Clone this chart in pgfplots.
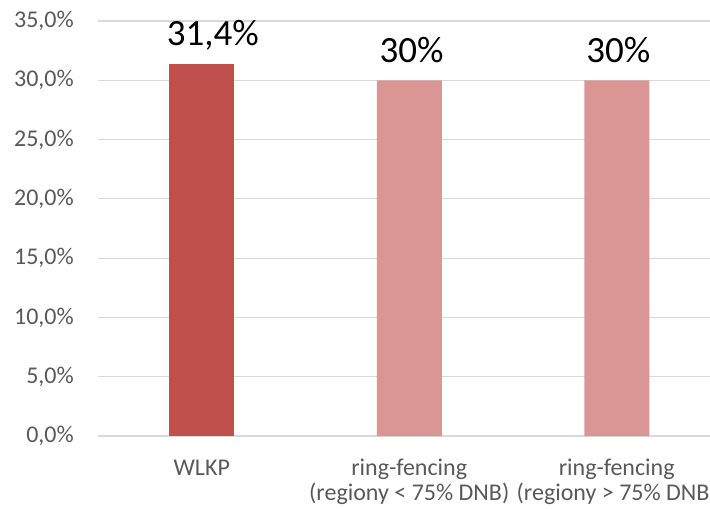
\documentclass[border=0pt]{standalone}
\usepackage{pgfplots}
\pgfplotsset{compat=1.18}
\usepackage{fontspec}
\setmainfont{Carlito}
\definecolor{barA}{HTML}{C0504D}
\definecolor{barB}{HTML}{D99694}
\definecolor{txtgray}{HTML}{595959}
\definecolor{gridgray}{HTML}{D9D9D9}
\begin{document}
\begin{tikzpicture}[x=1pt,y=1pt]
\useasboundingbox (0,0) rectangle (710,509);
\clip (0,0) rectangle (710,509);
\begin{axis}[
  at={(98pt,73pt)}, anchor=south west,
  scale only axis, width=622.5pt, height=415pt,
  xmin=-0.5, xmax=2.5, ymin=0, ymax=35,
  clip=false,
  axis line style={draw=none},
  tick style={draw=none}, major tick length=0pt,
  ymajorgrids, grid style={gridgray, line width=1.2pt},
  ytick={0,5,10,15,20,25,30,35},
  yticklabels={{0,0\%},{5,0\%},{10,0\%},{15,0\%},{20,0\%},{25,0\%},{30,0\%},{35,0\%}},
  yticklabel style={font=\fontsize{24}{28}\selectfont, text=txtgray, anchor=east, inner sep=0pt, xshift=-24pt},
  xtick={0,1,2},
  xticklabels={\rule{0pt}{18pt}WLKP,{\rule{0pt}{18pt}ring-fencing\\(regiony < 75\% DNB)},{\rule{0pt}{18pt}ring-fencing\\(regiony > 75\% DNB)}},
  xticklabel style={font=\fontsize{24}{25}\selectfont, text=txtgray, align=center, anchor=north, inner sep=0pt, yshift=-21.5pt},
  bar width=65pt,
]
\addplot[ybar, fill=barA, draw=none, bar shift=0pt] coordinates {(0,31.4)};
\addplot[ybar, fill=barB, draw=none, bar shift=0pt] coordinates {(1,30) (2,30)};
\node[anchor=base, inner sep=0pt, font=\fontsize{37}{42}\selectfont] at (axis cs:0.053,31.4) [yshift=18.5pt] {31,4\%};
\node[anchor=base, inner sep=0pt, font=\fontsize{37}{42}\selectfont] at (axis cs:1.011,30) [yshift=17.5pt] {30\%};
\node[anchor=base, inner sep=0pt, font=\fontsize{37}{42}\selectfont] at (axis cs:2.008,30) [yshift=17.5pt] {30\%};
\end{axis}
\end{tikzpicture}
\end{document}
